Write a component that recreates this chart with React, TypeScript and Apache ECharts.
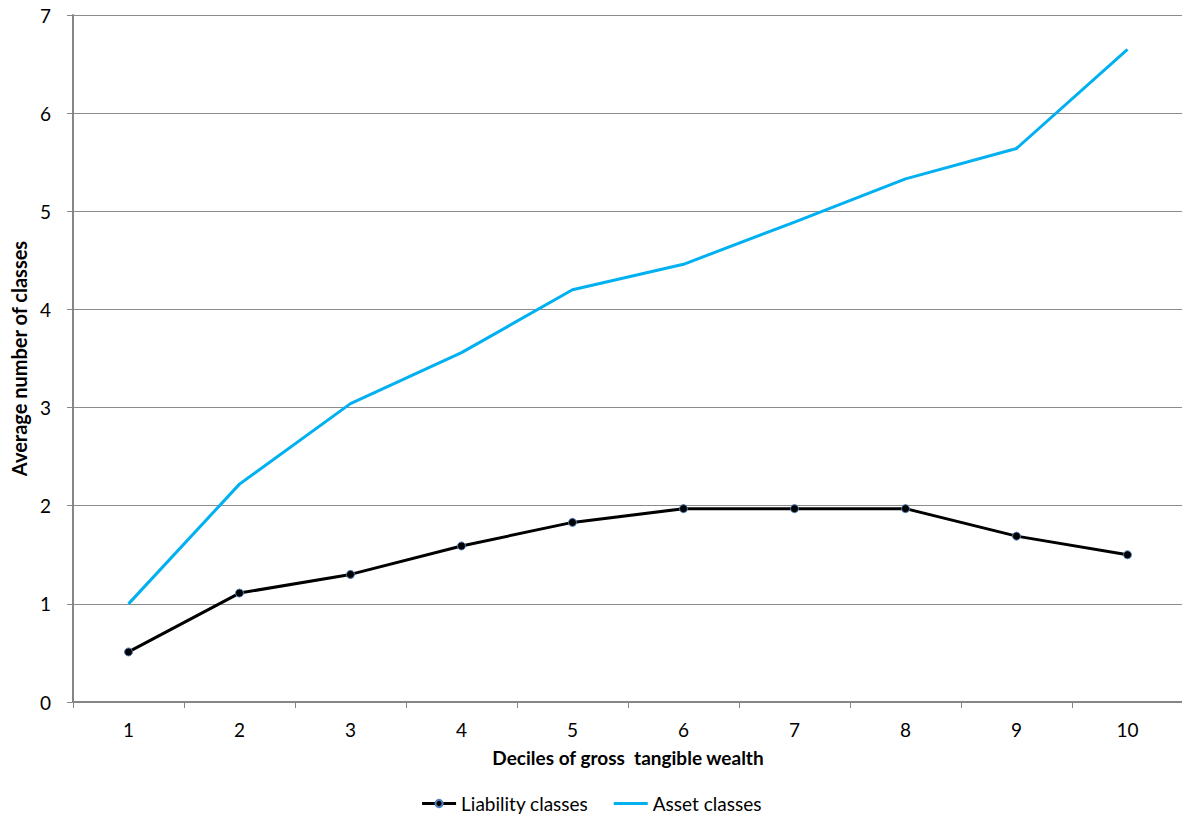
import React, { useEffect, useRef } from "react";
import * as echarts from "echarts";

const categories = ["1", "2", "3", "4", "5", "6", "7", "8", "9", "10"];
const liabilityClasses = [0.51, 1.11, 1.3, 1.59, 1.83, 1.97, 1.97, 1.97, 1.69, 1.5];
const assetClasses = [1.0, 2.22, 3.04, 3.56, 4.2, 4.46, 4.89, 5.33, 5.64, 6.65];

const FONT = "Lato, 'Liberation Sans', sans-serif";

export default function App() {
  const ref = useRef<HTMLDivElement>(null);
  useEffect(() => {
    if (!ref.current) return;
    const chart = echarts.init(ref.current, null, { renderer: "svg" });
    chart.setOption({
      animation: false,
      backgroundColor: "#ffffff",
      textStyle: { fontFamily: FONT },
      grid: {
        left: 73,
        top: 15,
        width: 1110,
        bottom: 118,
        containLabel: false,
        outerBoundsMode: "none",
      },
      legend: {
        bottom: 2,
        left: "center",
        itemGap: 24,
        itemWidth: 34,
        itemHeight: 9,
        lineStyle: { width: 3 },
        textStyle: { fontFamily: FONT, fontSize: 19, color: "#000" },
        data: [
          { name: "Liability classes" },
          { name: "Asset classes", itemStyle: { opacity: 0 } },
        ],
      },
      xAxis: {
        type: "category",
        data: categories,
        boundaryGap: true,
        name: "Deciles of gross  tangible wealth",
        nameLocation: "middle",
        nameGap: 46,
        nameTextStyle: { fontFamily: FONT, fontSize: 19, fontWeight: "bold", color: "#000" },
        axisLine: { lineStyle: { color: "#868686", width: 2 } },
        axisTick: { show: true, length: 6, lineStyle: { color: "#868686" }, alignWithLabel: false },
        axisLabel: { fontFamily: FONT, fontSize: 19, color: "#000", margin: 18 },
      },
      yAxis: {
        type: "value",
        min: 0,
        max: 7,
        interval: 1,
        name: "Average number of classes",
        nameLocation: "middle",
        nameGap: 44,
        nameRotate: 90,
        nameTextStyle: { fontFamily: FONT, fontSize: 20, fontWeight: "bold", color: "#000" },
        axisLine: { show: true, lineStyle: { color: "#868686", width: 2 } },
        axisTick: { show: true, length: 6, lineStyle: { color: "#868686" } },
        splitLine: { show: true, lineStyle: { color: "#8c8c8c", width: 1 } },
        axisLabel: { fontFamily: FONT, fontSize: 19, color: "#000", margin: 22 },
      },
      series: [
        {
          name: "Liability classes",
          type: "line",
          data: liabilityClasses,
          symbol: "circle",
          symbolSize: 8,
          lineStyle: { color: "#000000", width: 3 },
          itemStyle: { color: "#000000", borderColor: "#4F81BD", borderWidth: 1 },
          z: 3,
        },
        {
          name: "Asset classes",
          type: "line",
          data: assetClasses,
          symbol: "none",
          lineStyle: { color: "#00B0F0", width: 3 },
          itemStyle: { color: "#00B0F0" },
          z: 2,
        },
      ],
    });
    return () => chart.dispose();
  }, []);
  return (
    <div
      ref={ref}
      style={{ position: "fixed", left: 0, top: 0, width: 1182, height: 820, background: "#fff" }}
    />
  );
}
